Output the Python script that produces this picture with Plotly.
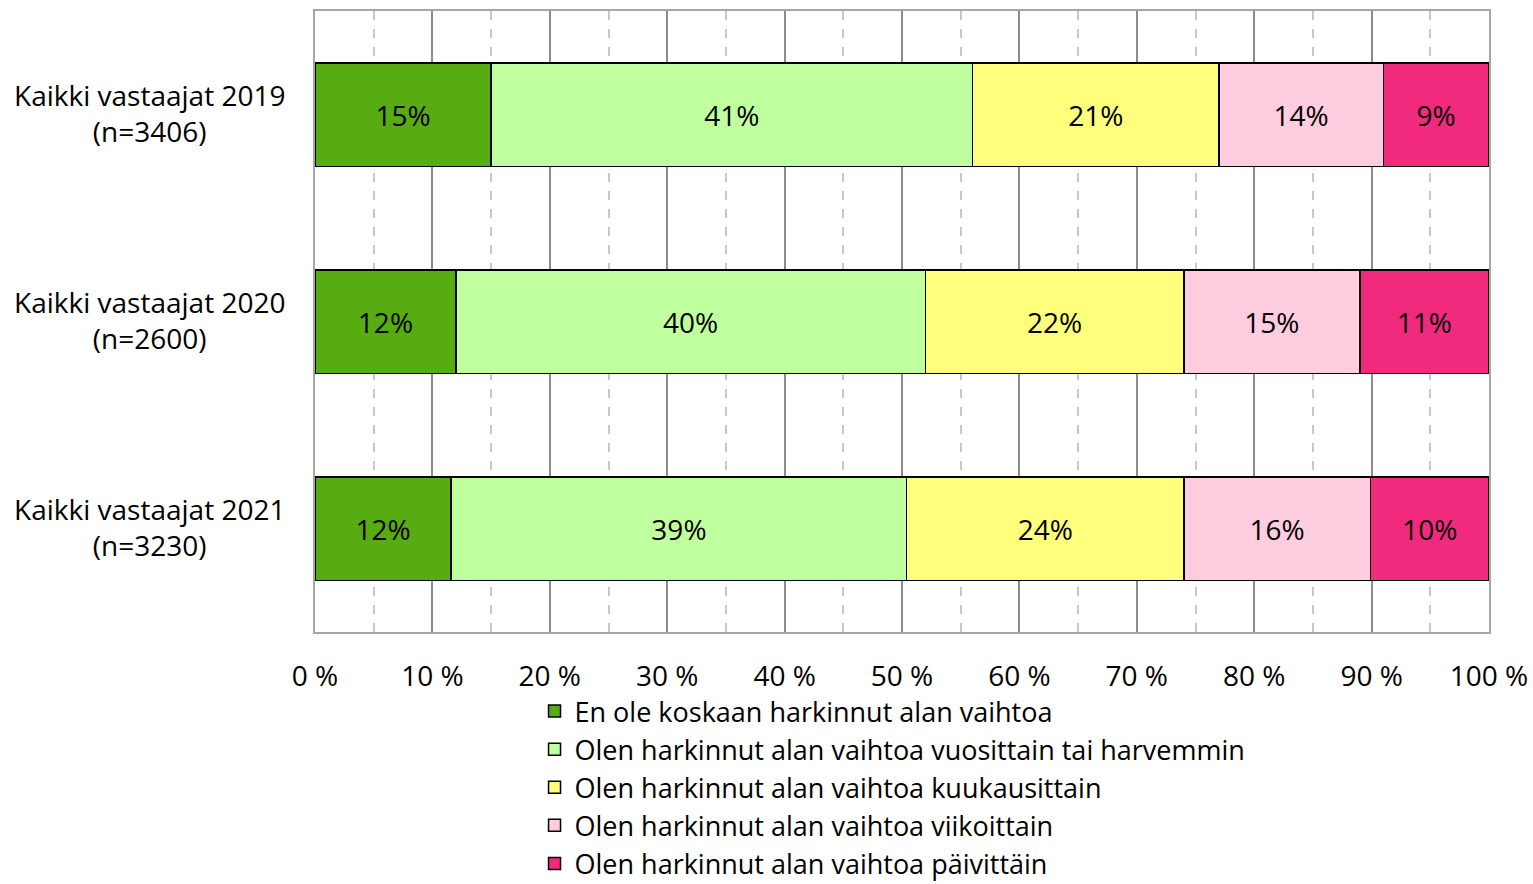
import plotly.graph_objects as go

categories = ["Kaikki vastaajat 2019", "Kaikki vastaajat 2020", "Kaikki vastaajat 2021"]
sample_sizes = ["(n=3406)", "(n=2600)", "(n=3230)"]
series_names = [
    "En ole koskaan harkinnut alan vaihtoa",
    "Olen harkinnut alan vaihtoa vuosittain tai harvemmin",
    "Olen harkinnut alan vaihtoa kuukausittain",
    "Olen harkinnut alan vaihtoa viikoittain",
    "Olen harkinnut alan vaihtoa päivittäin",
]
never = [15.0, 12.0, 11.6]
yearly = [41.0, 40.0, 38.8]
monthly = [21.0, 22.0, 23.6]
weekly = [14.0, 15.0, 15.9]
daily = [9.0, 11.0, 10.1]
series_values = [never, yearly, monthly, weekly, daily]
colors = ["#56AC10", "#C0FF9E", "#FFFF7C", "#FFCCE0", "#F22A7E"]
x_ticks = [0, 10, 20, 30, 40, 50, 60, 70, 80, 90, 100]

FONT = "Open Sans"
FS = 28

fig = go.Figure()
for name, vals, col in zip(series_names, series_values, colors):
    fig.add_trace(go.Bar(
        y=categories, x=vals, name=name, orientation="h",
        marker=dict(color=col, line=dict(color="#000000", width=1.5)),
        texttemplate="%{x:.0f}%", textposition="inside", insidetextanchor="middle",
        textfont=dict(family=FONT, size=FS, color="#000000"),
        textangle=0,
    ))

for cat, n in zip(categories, sample_sizes):
    fig.add_annotation(
        x=0, xref="paper", y=cat, yref="y", xanchor="right", yanchor="middle",
        xshift=-28, yshift=2, text=f"{cat}<br>{n}", align="center", showarrow=False,
        font=dict(family=FONT, size=FS, color="#000000"),
    )

fig.update_layout(
    width=1533, height=884,
    barmode="stack", bargap=0.5,
    plot_bgcolor="#FFFFFF", paper_bgcolor="#FFFFFF",
    margin=dict(l=315, r=44, t=11, b=252, autoexpand=False),
    font=dict(family=FONT, size=FS, color="#000000"),
    uniformtext=dict(mode="show", minsize=10),
    legend=dict(
        orientation="v", x=0.187, xanchor="left", y=-0.0886, yanchor="top",
        traceorder="normal", font=dict(family=FONT, size=27, color="#000000"),
        itemwidth=30, bgcolor="rgba(0,0,0,0)",
    ),
    showlegend=True,
)
fig.update_xaxes(
    range=[0, 100], tickvals=x_ticks, ticktext=[f"{v} %" for v in x_ticks],
    showgrid=True, gridcolor="#8C8C8C", gridwidth=1.5,
    minor=dict(dtick=5, showgrid=True, gridcolor="#C8C8C8", griddash="dash", gridwidth=1.5),
    showline=True, linecolor="#A6A6A6", linewidth=1.5, mirror=True,
    zeroline=False, ticks="", ticklabelstandoff=19, automargin=False,
    tickfont=dict(family=FONT, size=FS, color="#000000"),
    fixedrange=True,
)
fig.update_yaxes(
    autorange="reversed", showticklabels=False, showgrid=False,
    showline=True, linecolor="#A6A6A6", linewidth=1.5, mirror=True,
    ticks="", fixedrange=True, automargin=False,
)

fig.write_html(
    "out.html",
    config={"displayModeBar": False},
    post_script="document.body.style.margin='0';document.body.style.overflow='hidden';",
)
